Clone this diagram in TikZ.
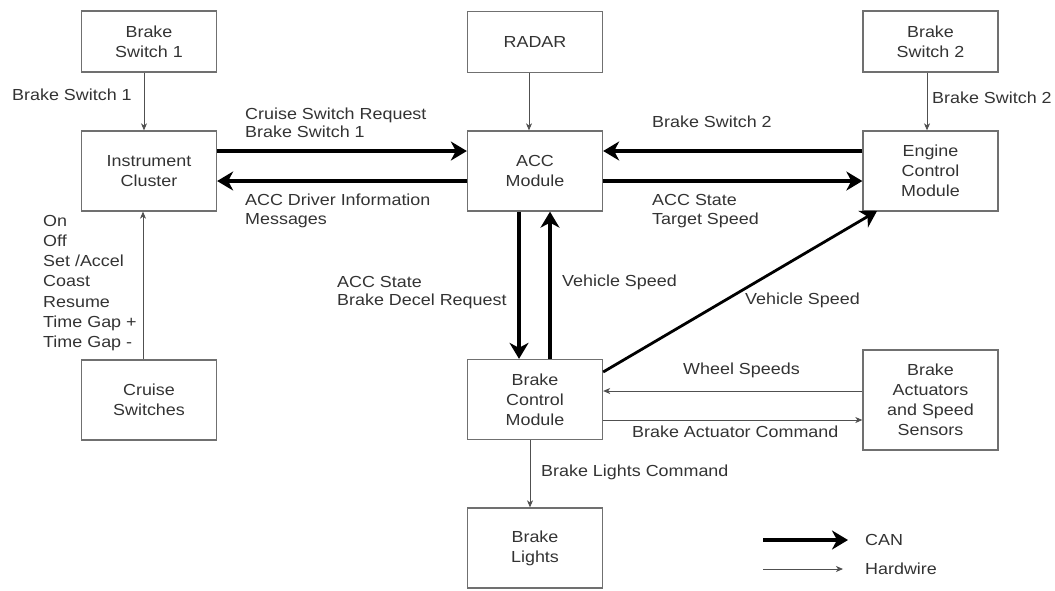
\documentclass[tikz,border=0pt]{standalone}
\usepackage{fontspec}
\setmainfont{Liberation Sans}[FakeStretch=1.12]
\usetikzlibrary{arrows.meta}
\definecolor{txt}{HTML}{333333}
\definecolor{boxc}{HTML}{707070}
\definecolor{thin}{HTML}{505050}
\begin{document}
\begin{tikzpicture}[x=1pt,y=-1pt,
  every node/.style={font=\fontsize{16}{20}\selectfont, text=txt},
  blk/.style={draw=boxc, line width=1.3pt, minimum width=135pt, minimum height=80pt, inner sep=0pt, align=center},
  lbl/.style={anchor=west, align=left, inner sep=0pt, font=\fontsize{16}{18.5}\selectfont},
  hw/.style={draw=thin, line width=0.9pt, -{Stealth[length=7pt,width=6pt,inset=2pt]}},
  can/.style={draw=black, line width=3.5pt, -{Stealth[length=16pt,width=19pt,inset=5pt]}}
]
\useasboundingbox (0,0) rectangle (1055,590);
% boxes
\node[blk, minimum height=61pt] (bs1) at (149,41.5) {Brake\\Switch 1};
\node[blk] (ic) at (149,171) {Instrument\\Cluster};
\node[blk] (cs) at (149,400) {Cruise\\Switches};
\node[blk, minimum height=61pt] (radar) at (535,42) {RADAR};
\node[blk] (acc) at (535,171) {ACC\\Module};
\node[blk] (bcm) at (535,399.5) {Brake\\Control\\Module};
\node[blk] (bl) at (535,548) {Brake\\Lights};
\node[blk, minimum height=61pt] (bs2) at (930.5,41.5) {Brake\\Switch 2};
\node[blk] (ecm) at (930.5,171) {Engine\\Control\\Module};
\node[blk, minimum height=100pt] (ba) at (930.5,400) {Brake\\Actuators\\and Speed\\Sensors};
% hardwire arrows
\draw[hw] ([xshift=-5pt]bs1.south) -- ([xshift=-5pt]ic.north);
\draw[hw] ([xshift=-6pt]cs.north) -- ([xshift=-6pt]ic.south);
\draw[hw] ([xshift=-6pt]radar.south) -- ([xshift=-6pt]acc.north);
\draw[hw] ([xshift=-3.5pt]bs2.south) -- ([xshift=-3.5pt]ecm.north);
\draw[hw] ([yshift=9pt]ba.west) -- ([yshift=8.5pt]bcm.east);
\draw[hw] ([yshift=-20.5pt]bcm.east) -- ([yshift=-20pt]ba.west);
\draw[hw] ([xshift=-5pt]bcm.south) -- ([xshift=-5pt]bl.north);
% CAN arrows
\draw[can] ([yshift=20pt]ic.east) -- ([yshift=20pt]acc.west);
\draw[can] ([yshift=-10pt]acc.west) -- ([yshift=-10pt]ic.east);
\draw[can] ([yshift=20pt]ecm.west) -- ([yshift=20pt]acc.east);
\draw[can] ([yshift=-10pt]acc.east) -- ([yshift=-10pt]ecm.west);
\draw[can] ([xshift=-16pt]acc.south) -- ([xshift=-16pt]bcm.north);
\draw[can] ([xshift=15pt]bcm.north) -- ([xshift=15pt]acc.south);
\coordinate (diagEnd) at (877,211);
\draw[can, line width=2.8pt] ([yshift=27.5pt]bcm.east) -- (diagEnd);
% labels
\node[lbl] (l1) at (12,95) {Brake Switch 1};
\node[lbl] (l2) at (245,123) {Cruise Switch Request\\Brake Switch 1};
\node[lbl] (l3) at (245,211) {ACC Driver Information\\Messages};
\node[lbl] (l4) at (652,122) {Brake Switch 2};
\node[lbl] (l5) at (652,211) {ACC State\\Target Speed};
\node[lbl] (l6) at (932,98) {Brake Switch 2};
\node[lbl, font=\fontsize{16}{20.3}\selectfont] (l7) at (43,283) {On\\Off\\Set /Accel\\Coast\\Resume\\Time Gap +\\Time Gap -};
\node[lbl] (l8) at (337,292.5) {ACC State\\Brake Decel Request};
\node[lbl] (l9) at (562,282) {Vehicle Speed};
\node[lbl] (l10) at (745,300) {Vehicle Speed};
\node[lbl] (l11) at (683,370) {Wheel Speeds};
\node[lbl] (l12) at (632,432) {Brake Actuator Command};
\node[lbl] (l13) at (541,472) {Brake Lights Command};
% legend
\coordinate (canA) at (763,540);
\coordinate (canB) at (848,540);
\coordinate (hwA) at (763,569);
\coordinate (hwB) at (843,569);
\draw[can] (canA) -- (canB);
\draw[hw] (hwA) -- (hwB);
\node[lbl] (lcan) at (865,540) {CAN};
\node[lbl] (lhw) at (865,569) {Hardwire};
\end{tikzpicture}
\end{document}
